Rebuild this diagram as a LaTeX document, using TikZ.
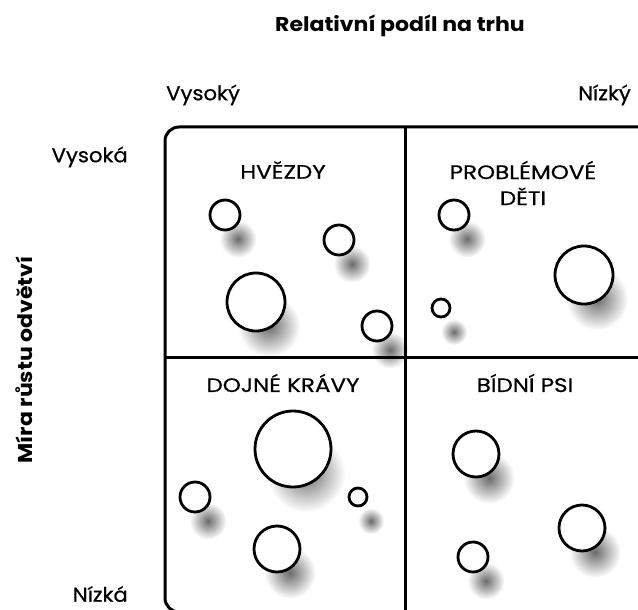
\documentclass[tikz,border=0pt]{standalone}
\usepackage{fontspec}
\setmainfont{Poppins}[FakeStretch=1.06, FakeBold=0.6]
\newfontfamily\capsfont{Poppins}[FakeStretch=1.18, FakeBold=0.6]
\newfontfamily\boldfont{Poppins}[FakeStretch=1.1]
\begin{document}
\begin{tikzpicture}[x=1pt,y=-1pt,
  lbl/.style={font=\fontsize{20}{22}\selectfont, inner sep=0pt},
  qlbl/.style={font=\capsfont\fontsize{19.5}{26}\selectfont, align=center, inner sep=0pt},
  bubble/.style={draw=black, fill=white, line width=2.8pt, circle, inner sep=0pt},
  frame/.style={line width=3pt, rounded corners=14pt},
  divider/.style={line width=3pt}]
\useasboundingbox (0,0) rectangle (638,610);
\fill[white] (0,0) rectangle (638,610);
% shadows
\foreach \x/\y/\r in {225/215/15, 339/240/15, 256/302/29, 377/326/15,
                      454/215/15, 584/275/29, 441/308/9,
                      293/449/38, 195/497/15, 358/497/9, 277/549/23,
                      476/454/23, 582/528/23, 473/557/15}{
  \shade[inner color=black!58, outer color=white] ({\x+13},{\y+24}) circle ({\r*0.9+5});
}
% frame
\draw[frame] (650,612) -- (165,612) -- (165,127) -- (650,127);
\coordinate (vt) at (405,127);
\coordinate (vb) at (405,612);
\coordinate (hl) at (165,357);
\coordinate (hr) at (650,357);
\draw[divider] (vt) -- (vb);
\draw[divider] (hl) -- (hr);
% bubbles
\node[bubble, minimum size=30pt] (h1) at (225,215) {};
\node[bubble, minimum size=30pt] (h2) at (339,240) {};
\node[bubble, minimum size=58pt] (h3) at (256,302) {};
\node[bubble, minimum size=30pt] (h4) at (377,326) {};
\node[bubble, minimum size=30pt] (p1) at (454,215) {};
\node[bubble, minimum size=58pt] (p2) at (584,275) {};
\node[bubble, minimum size=18pt] (p3) at (441,308) {};
\node[bubble, minimum size=76pt] (d1) at (293,449) {};
\node[bubble, minimum size=30pt] (d2) at (195,497) {};
\node[bubble, minimum size=18pt] (d3) at (358,497) {};
\node[bubble, minimum size=46pt] (d4) at (277,549) {};
\node[bubble, minimum size=46pt] (b1) at (476,454) {};
\node[bubble, minimum size=46pt] (b2) at (582,528) {};
\node[bubble, minimum size=30pt] (b3) at (473,557) {};
% quadrant labels
\node[qlbl] (q1) at (283,170) {HVĚZDY};
\node[qlbl] (q2) at (523,183) {PROBLÉMOVÉ\\DĚTI};
\node[qlbl] (q3) at (283,383) {DOJNÉ KRÁVY};
\node[qlbl] (q4) at (525,383) {BÍDNÍ PSI};
% axis labels
\node[font=\boldfont\bfseries\fontsize{20}{22}\selectfont, inner sep=0pt] (title) at (400,26) {Relativní podíl na trhu};
\node[lbl, anchor=west] (xh) at (166,95) {Vysoký};
\node[lbl, anchor=west] (xl) at (578,95) {Nízký};
\node[lbl, anchor=east] (yh) at (128,157) {Vysoká};
\node[lbl, anchor=east] (yl) at (128,594) {Nízká};
\node[font=\boldfont\bfseries\fontsize{20}{22}\selectfont, inner sep=0pt, rotate=90] (ylab) at (24,360) {Míra růstu odvětví};
\end{tikzpicture}
\end{document}
